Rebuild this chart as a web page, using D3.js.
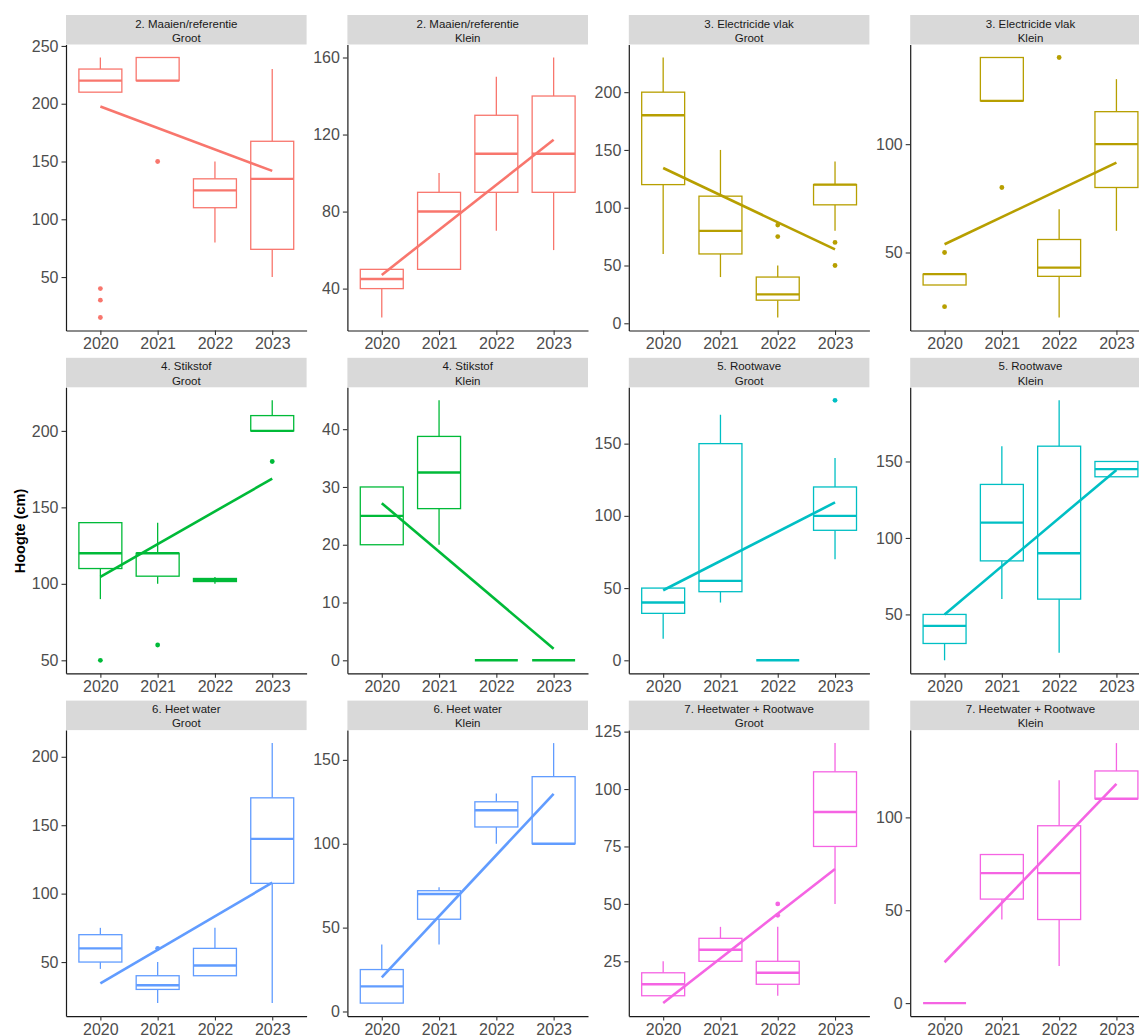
<!DOCTYPE html>
<html>
<head>
<meta charset="utf-8">
<script src="https://cdn.jsdelivr.net/npm/d3@7"></script>
<style>
  html, body { margin: 0; padding: 0; background: #fff; overflow: hidden; }
  svg { display: block; font-family: "Liberation Sans", Arial, sans-serif; }
</style>
</head>
<body>
<svg id="chart" width="1139" height="1035"></svg>
<script>
// Years on the x axis
const years = ["2020", "2021", "2022", "2023"];

// Facet labels (treatment, plant size) in panel order
const treatments = [
  "2. Maaien/referentie", "2. Maaien/referentie",
  "3. Electricide vlak", "3. Electricide vlak",
  "4. Stikstof", "4. Stikstof",
  "5. Rootwave", "5. Rootwave",
  "6. Heet water", "6. Heet water",
  "7. Heetwater + Rootwave", "7. Heetwater + Rootwave"
];
const sizes = ["Groot", "Klein", "Groot", "Klein", "Groot", "Klein",
               "Groot", "Klein", "Groot", "Klein", "Groot", "Klein"];

// Colour index per panel (one hue per treatment)
const colourIndex = [0, 0, 1, 1, 2, 2, 3, 3, 4, 4, 5, 5];
const palette = ["#F8766D", "#B79F00", "#00BA38", "#00BFC4", "#619CFF", "#F564E3"];

// Box statistics per panel and year: [lower whisker, Q1, median, Q3, upper whisker]
const boxStats = [
  [[210, 210, 220, 230, 240], [220, 220, 220, 240, 240], [80, 110, 125, 135, 150], [50, 74, 135, 167.5, 230]],
  [[25, 40, 45, 50, 50], [50, 50, 80, 90, 100], [70, 90, 110, 130, 150], [60, 90, 110, 140, 160]],
  [[60, 120, 180, 200, 230], [40, 60, 80, 110, 150], [5, 20, 25, 40, 50], [80, 102.5, 120, 120, 140]],
  [[35, 35, 40, 40, 40], [120, 120, 120, 140, 140], [20, 39, 43, 56, 70], [60, 80, 100, 115, 130]],
  [[90, 110, 120, 140, 140], [100, 105, 120, 120, 140], [100, 101.5, 102.5, 103.5, 104.5], [200, 200, 200, 210, 220]],
  [[20, 20, 25, 30, 30], [20, 26.25, 32.5, 38.75, 45], [0, 0, 0, 0, 0], [0, 0, 0, 0, 0]],
  [[15, 32.5, 40, 50, 50], [40, 47.5, 55, 150, 170], [0, 0, 0, 0, 0], [70, 90, 100, 120, 140]],
  [[20, 31, 42.5, 50, 50], [60, 85, 110, 135, 160], [25, 60, 90, 160, 190], [140, 140, 145, 150, 150]],
  [[45, 50, 60, 70, 75], [20, 30, 33, 40, 50], [40, 40, 47.5, 60, 75], [20, 107.5, 140, 170, 210]],
  [[5, 5, 15, 25, 40], [40, 55, 70, 72, 74], [100, 110, 120, 125, 130], [100, 100, 100, 140, 160]],
  [[10, 10, 15, 20, 25], [25, 25, 30, 35, 40], [10, 15, 20, 25, 40], [50, 75, 90, 107.5, 120]],
  [[0, 0, 0, 0, 0], [45, 56, 70, 80, 80], [20, 45, 70, 95.5, 120], [110, 110, 110, 125, 140]]
];

// Outlying observations per panel: [year, value]
const outliers = [
  [["2020", 40], ["2020", 30], ["2020", 15], ["2021", 150]],
  [],
  [["2022", 85], ["2022", 75], ["2023", 70], ["2023", 50]],
  [["2020", 50], ["2020", 25], ["2021", 80], ["2022", 140]],
  [["2020", 50], ["2021", 60], ["2023", 180]],
  [],
  [["2023", 180]],
  [],
  [["2021", 60]],
  [],
  [["2022", 50], ["2022", 45]],
  []
];

// Linear trend per panel: fitted value at 2020 and at 2023
const trendStart = [197.6, 47.1, 134.4, 53.8, 104.5, 27.2, 48.5, 50, 34.4, 20.3, 6.8, 22];
const trendEnd   = [141.9, 117.3, 63.9, 91.5, 168.8, 2, 109.3, 144.5, 108, 129.7, 65.2, 118];

// Y tick labels per panel
const yTicks = [
  [50, 100, 150, 200, 250], [40, 80, 120, 160], [0, 50, 100, 150, 200], [50, 100],
  [50, 100, 150, 200], [0, 10, 20, 30, 40], [0, 50, 100, 150], [50, 100, 150],
  [50, 100, 150, 200], [0, 50, 100, 150], [25, 50, 75, 100, 125], [0, 50, 100]
];

const yTitle = "Hoogte (cm)";

// ---- layout ----
const svg = d3.select("#chart");
const colLeft0 = 66, colPitch = 281.4, panelW = 240.6;
const rowTop0 = 15, rowPitch = 342.8, stripH = 29.5, plotH = 286;

treatments.forEach((treat, p) => {
  const c = p % 4, r = Math.floor(p / 4);
  const left = colLeft0 + c * colPitch;
  const top = rowTop0 + r * rowPitch;
  const plotTop = top + stripH;
  const plotBottom = plotTop + plotH;
  const colour = palette[colourIndex[p]];

  // y range covers whiskers, outliers and the trend line, expanded by 5%
  const vals = boxStats[p].flat()
    .concat(outliers[p].map(d => d[1]))
    .concat([trendStart[p], trendEnd[p]]);
  const lo = d3.min(vals), hi = d3.max(vals), span = hi - lo;
  const y = d3.scaleLinear()
    .domain([lo - 0.05 * span, hi + 0.05 * span])
    .range([plotBottom, plotTop]);
  // discrete x positions 1..4 with 0.6 padding on each side
  const x = d3.scaleLinear().domain([0.4, 4.6]).range([left, left + panelW]);
  const step = x(2) - x(1);
  const boxW = 0.75 * step;
  const xi = yr => x(years.indexOf(yr) + 1);

  const g = svg.append("g");

  // strip
  g.append("rect")
    .attr("x", left).attr("y", top)
    .attr("width", panelW).attr("height", stripH)
    .attr("fill", "#D9D9D9");
  g.append("text")
    .attr("x", left + panelW / 2).attr("y", top + 8.5)
    .attr("text-anchor", "middle").attr("dominant-baseline", "central")
    .attr("font-size", "11.5px").attr("fill", "#1A1A1A")
    .text(treat);
  g.append("text")
    .attr("x", left + panelW / 2).attr("y", top + 22.7)
    .attr("text-anchor", "middle").attr("dominant-baseline", "central")
    .attr("font-size", "11.5px").attr("fill", "#1A1A1A")
    .text(sizes[p]);

  // boxplots
  boxStats[p].forEach((s, i) => {
    const cx = x(i + 1);
    const [wl, q1, md, q3, wh] = s;
    const bg = g.append("g").attr("stroke", colour).attr("fill", "none");
    bg.append("line").attr("x1", cx).attr("x2", cx)
      .attr("y1", y(wh)).attr("y2", y(q3)).attr("stroke-width", 1.3);
    bg.append("line").attr("x1", cx).attr("x2", cx)
      .attr("y1", y(q1)).attr("y2", y(wl)).attr("stroke-width", 1.3);
    bg.append("rect")
      .attr("x", cx - boxW / 2).attr("y", y(q3))
      .attr("width", boxW).attr("height", Math.max(0, y(q1) - y(q3)))
      .attr("fill", "#fff").attr("stroke-width", 1.3);
    bg.append("line")
      .attr("x1", cx - boxW / 2).attr("x2", cx + boxW / 2)
      .attr("y1", y(md)).attr("y2", y(md))
      .attr("stroke-width", 2.4);
  });

  // outliers
  g.selectAll(null).data(outliers[p]).enter().append("circle")
    .attr("cx", d => xi(d[0])).attr("cy", d => y(d[1]))
    .attr("r", 2.4).attr("fill", colour);

  // linear trend
  g.append("line")
    .attr("x1", x(1)).attr("y1", y(trendStart[p]))
    .attr("x2", x(4)).attr("y2", y(trendEnd[p]))
    .attr("stroke", colour).attr("stroke-width", 2.6)
    .attr("stroke-linecap", "butt");

  // axes
  const yAxis = d3.axisLeft(y).tickValues(yTicks[p]).tickSize(4.5).tickSizeOuter(0).tickPadding(3);
  const ya = g.append("g").attr("transform", `translate(${left},0)`).call(yAxis);
  const xAxis = d3.axisBottom(x).tickValues([1, 2, 3, 4]).tickFormat(d => years[d - 1])
    .tickSize(4.5).tickSizeOuter(0).tickPadding(3);
  const xa = g.append("g").attr("transform", `translate(0,${plotBottom})`).call(xAxis);
  [ya, xa].forEach(a => {
    a.select(".domain").attr("stroke", "#1a1a1a").attr("stroke-width", 1.2);
    a.selectAll(".tick line").attr("stroke", "#333").attr("stroke-width", 1.1);
    a.selectAll(".tick text").attr("fill", "#4D4D4D").attr("font-size", "16px")
      .attr("font-family", "Liberation Sans, Arial, sans-serif");
  });
});

// shared y-axis title
svg.append("text")
  .attr("transform", "translate(20,531) rotate(-90)")
  .attr("text-anchor", "middle").attr("dominant-baseline", "central")
  .attr("font-size", "14.5px").attr("font-weight", "bold").attr("fill", "#000")
  .text(yTitle);
</script>
</body>
</html>
